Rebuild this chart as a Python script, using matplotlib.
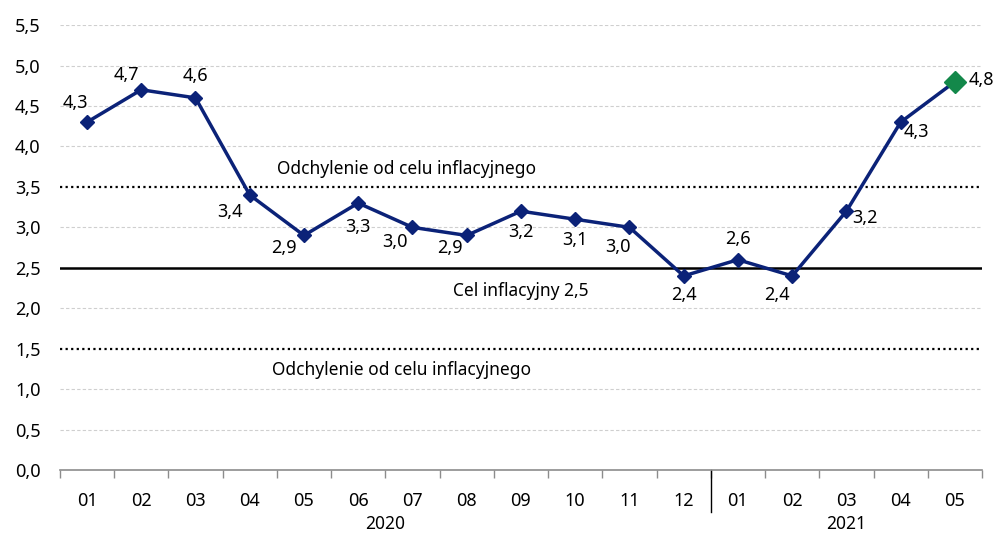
import numpy as np
import matplotlib.pyplot as plt

months = ['01', '02', '03', '04', '05', '06', '07', '08', '09', '10', '11', '12',
          '01', '02', '03', '04', '05']
years = ['2020', '2021']
year_counts = [12, 5]
cpi = [4.3, 4.7, 4.6, 3.4, 2.9, 3.3, 3.0, 2.9, 3.2, 3.1, 3.0, 2.4,
       2.6, 2.4, 3.2, 4.3, 4.8]
target = 2.5
band_upper = 3.5
band_lower = 1.5

# label offsets in pixels (dx, dy) for each point
offsets = [(-12, 19), (-15, 15), (0, 22), (-20, -17), (-20, -13), (0, -24),
           (-18, -15), (-17, -13), (0, -21), (0, -21), (-12, -20), (0, -19),
           (0, 21), (-15, -19), (19, -7), (16, -10), (26, 2)]

plt.rcParams['font.family'] = ['Noto Sans', 'DejaVu Sans']

navy = '#0b2278'
green = '#13884a'

fig = plt.figure(figsize=(9.98, 5.33), dpi=100)
ax = fig.add_axes([0.060, 0.118, 0.924, 0.835])

x = np.arange(len(cpi))
ax.set_xlim(-0.5, len(cpi) - 0.5)
ax.set_ylim(0, 5.5)

for y in np.arange(0.5, 5.51, 0.5):
    if y in (band_upper, band_lower, target):
        continue
    ax.axhline(y, color='#cfcfcf', lw=0.8, ls=(0, (3, 2)), zorder=1)

ax.axhline(band_upper, color='black', lw=1.6, ls=(0, (1, 1.5)), zorder=2)
ax.axhline(band_lower, color='black', lw=1.6, ls=(0, (1, 1.5)), zorder=2)
ax.axhline(target, color='black', lw=1.8, zorder=2)

ax.plot(x, cpi, color=navy, lw=2.5, marker='D', markersize=7.5, zorder=3)
ax.plot(x[-1], cpi[-1], marker='D', color=green, markersize=11, zorder=4, ls='none')

for xi, v, (dx, dy) in zip(x, cpi, offsets):
    ax.annotate(f'{v:.1f}'.replace('.', ','), (xi, v), xytext=(dx, dy),
                textcoords='offset pixels', ha='center', va='center', fontsize=13)

ax.text(5.9, band_upper + 0.22, 'Odchylenie od celu inflacyjnego', ha='center', va='center', fontsize=12.5)
ax.text(8.0, target - 0.29, 'Cel inflacyjny 2,5', ha='center', va='center', fontsize=12.5)
ax.text(5.8, band_lower - 0.26, 'Odchylenie od celu inflacyjnego', ha='center', va='center', fontsize=12.5)

yt = np.arange(0, 5.51, 0.5)
ax.set_yticks(yt)
ax.set_yticklabels([f'{v:.1f}'.replace('.', ',') for v in yt], fontsize=13)
ax.tick_params(axis='y', length=0, pad=14)

ax.set_xticks(np.arange(-0.5, len(cpi), 1))
ax.set_xticklabels([])
ax.tick_params(axis='x', length=6, color='#8c8c8c', width=1)
for xi, m in zip(x, months):
    ax.text(xi, -0.38, m, ha='center', va='center', fontsize=13, transform=ax.transData)

start = 0
for yr, n in zip(years, year_counts):
    ax.text(start + (n - 1) / 2, -0.67, yr, ha='center', va='center', fontsize=12.5, clip_on=False)
    start += n

ax.plot([11.5, 11.5], [0, -0.52], color='black', lw=1, clip_on=False)

for s in ['left', 'right', 'top']:
    ax.spines[s].set_visible(False)
ax.spines['bottom'].set_color('#8c8c8c')
ax.spines['bottom'].set_linewidth(1.2)

fig.savefig('out.png', dpi=100)
